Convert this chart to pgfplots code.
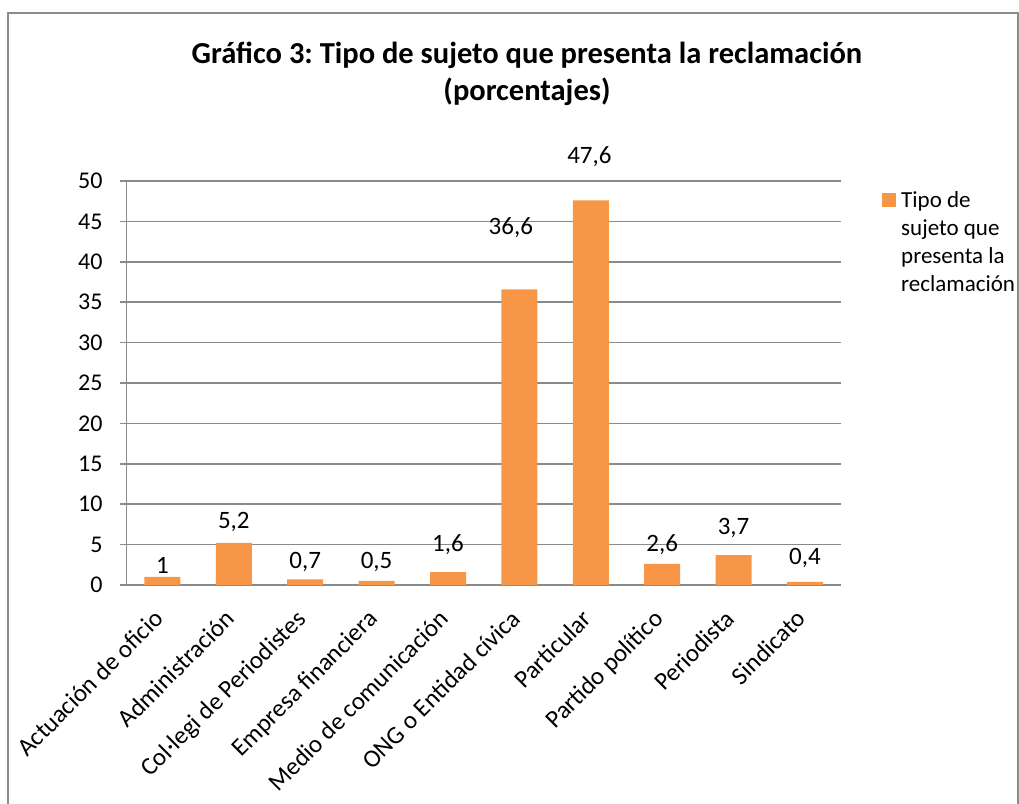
\documentclass[border=0pt]{standalone}
\usepackage{pgfplots}
\pgfplotsset{compat=1.18}
\usepackage{fontspec}
\setmainfont{Carlito}
\definecolor{barOrange}{HTML}{F79646}
\definecolor{axGray}{HTML}{8A8A8A}
\definecolor{frameGray}{HTML}{8C8C8C}

\begin{document}
\frenchspacing
\begin{tikzpicture}[x=1pt,y=1pt]
\useasboundingbox (0,0) rectangle (1019,803);

% chart frame (open at the bottom, as in the source)
\draw[frameGray, line width=1.5pt] (8,-5) -- (8,790) -- (1018,790) -- (1018,-5);

% title
\node[font=\fontsize{30.5}{37}\selectfont\bfseries, align=center] at (527,729.5)
  {Gráfico 3: Tipo de sujeto que presenta la reclamación\\(porcentajes)};

\begin{axis}[
  at={(126.7pt,218pt)}, anchor=south west,
  scale only axis,
  width=714pt, height=404pt,
  xmin=-0.5, xmax=9.5,
  ymin=0, ymax=50,
  ytick={0,5,...,50},
  xtick={0,...,9},
  xticklabels={Actuación de oficio, Administración, Col·legi de Periodistes,
    Empresa financiera, Medio de comunicación, ONG o Entidad cívica,
    Particular, Partido político, Periodista, Sindicato},
  /pgf/number format/assume math mode=true,
  axis x line*=bottom, axis y line*=left,
  axis line style={-, axGray, line width=1.5pt},
  ymajorgrids,
  grid style={axGray, line width=1.5pt},
  tick align=outside,
  major tick length=7pt,
  tick style={axGray, line width=1.5pt},
  major x tick style={draw=none},
  extra x ticks={-0.5,0.5,...,9.5},
  extra x tick labels={},
  extra x tick style={major x tick style={axGray, line width=1.5pt}, grid=none},
  yticklabel style={font=\fontsize{24}{28}\selectfont, anchor=east, inner sep=0pt, xshift=-17pt},
  xticklabel style={font=\fontsize{25}{30}\selectfont, inner sep=0pt, yshift=-16pt, xshift=-10pt, rotate=45, anchor=north east},
  clip=false,
]

\addplot[ybar, bar width=36pt, fill=barOrange, draw=none] coordinates {
  (0,1.0) (1,5.2) (2,0.7) (3,0.5) (4,1.6) (5,36.6) (6,47.6) (7,2.6) (8,3.7) (9,0.4)
};

% data labels (positions as placed in the source chart)
\begin{scope}[every node/.style={font=\fontsize{25}{30}\selectfont}]
\node at (axis cs:0,2.48) {1};
\node at (axis cs:1,7.8) {5,2};
\node at (axis cs:2,2.85) {0,7};
\node at (axis cs:3,2.85) {0,5};
\node at (axis cs:4,4.95) {1,6};
\node at (axis cs:4.88,44.2) {36,6};
\node at (axis cs:5.98,53.0) {47,6};
\node at (axis cs:7,4.95) {2,6};
\node at (axis cs:8,7.05) {3,7};
\node at (axis cs:9,3.34) {0,4};
\end{scope}
\end{axis}

% legend
\fill[barOrange] (882,610) rectangle (896,596);
\node[anchor=north west, inner sep=0pt, align=left, font=\fontsize{23}{28}\selectfont]
  at (901,612) {Tipo de\\sujeto que\\presenta la\\reclamación};
\end{tikzpicture}
\end{document}
